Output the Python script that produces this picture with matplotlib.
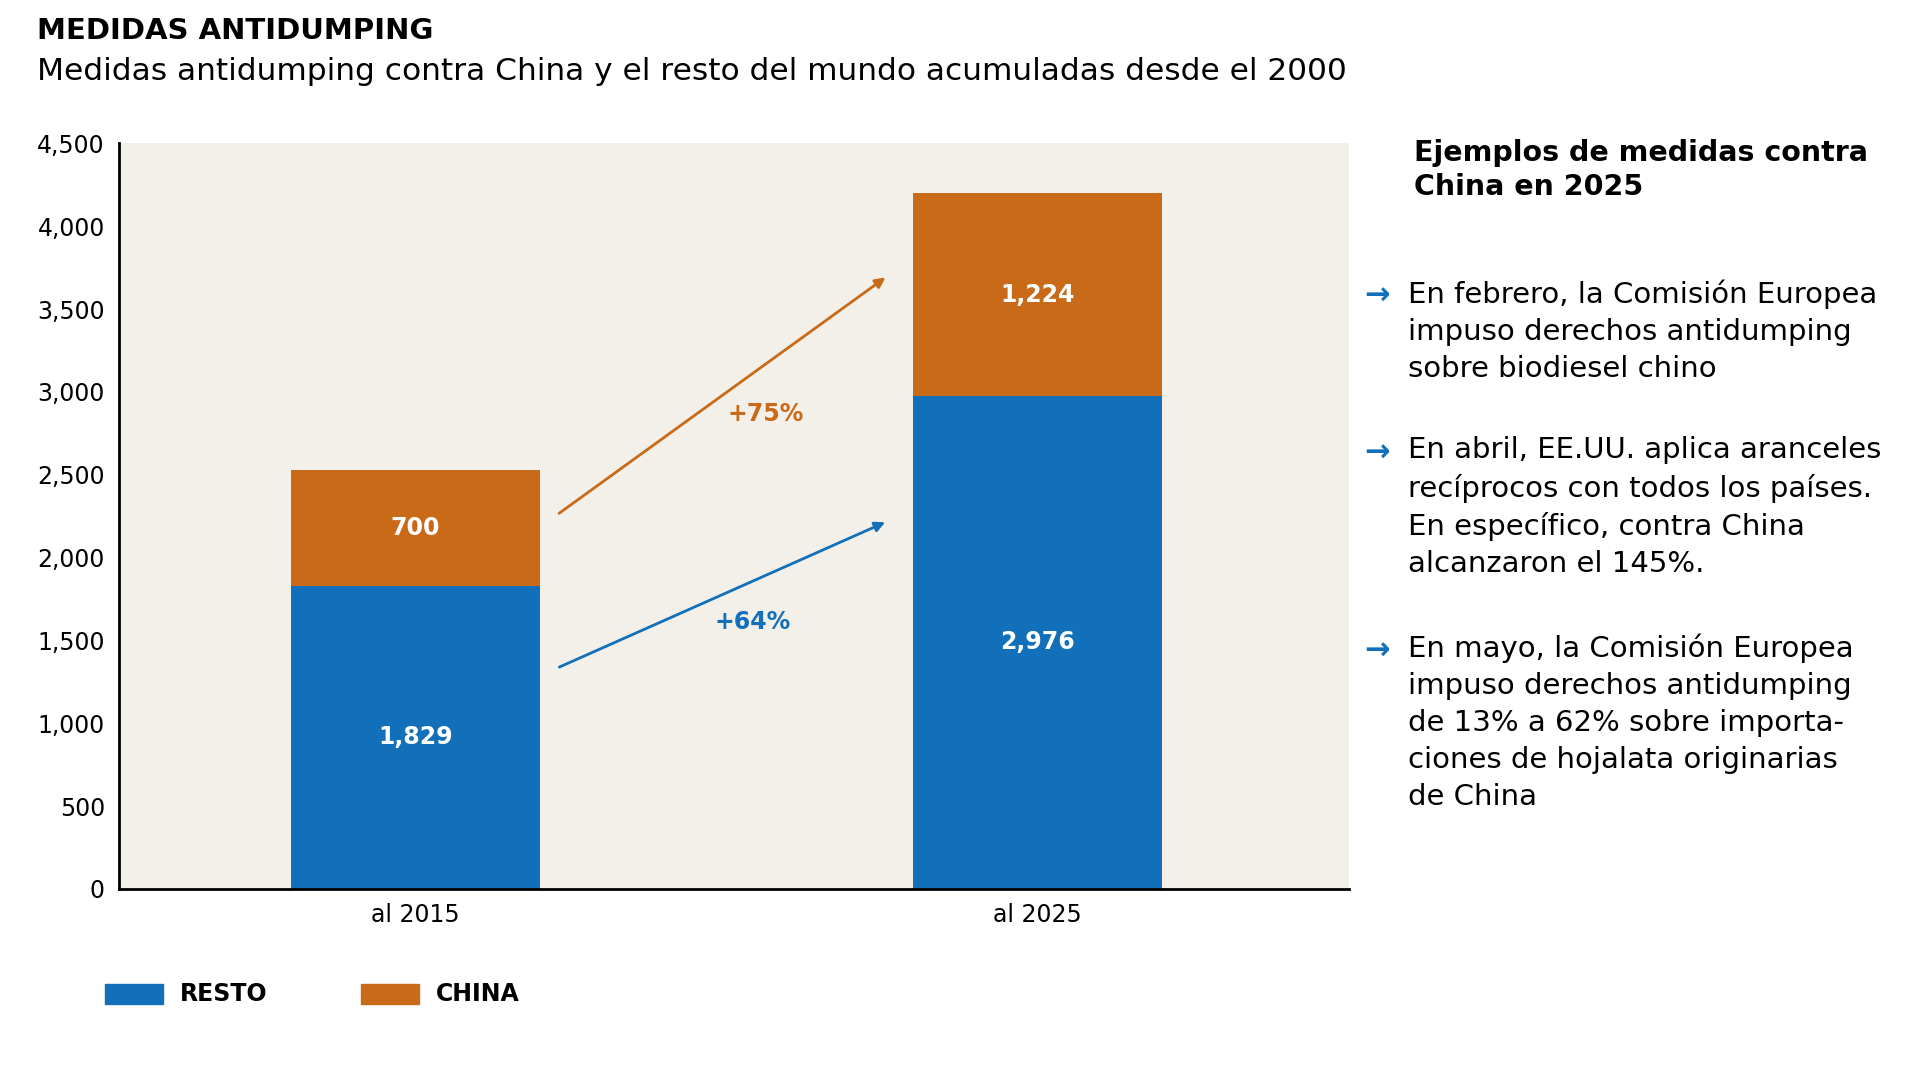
import matplotlib.pyplot as plt
from matplotlib.patches import Rectangle

# Data
periods = ['al 2015', 'al 2025']
resto = [1829, 2976]
china = [700, 1224]
growth_labels = ['+64%', '+75%']

blue = '#1170b9'
orange = '#c96a19'
bg = '#f3f0ea'
narrow = ['Liberation Sans Narrow', 'DejaVu Sans']

W, H = 1568, 876  # reference layout units

fig = plt.figure(figsize=(19.2, 10.74), dpi=100)
ax = fig.add_axes([97 / W, 1 - 725 / H, (1102 - 97) / W, (725 - 117) / H])
ax.set_facecolor(bg)

x = [0, 1]
ax.bar(x, resto, width=0.4, color=blue, zorder=2)
ax.bar(x, china, width=0.4, bottom=resto, color=orange, zorder=2)
for i in x:
    ax.text(i, resto[i] / 2, f'{resto[i]:,}', ha='center', va='center', color='white',
            fontsize=17, fontweight='bold', family=narrow)
    ax.text(i, resto[i] + china[i] / 2, f'{china[i]:,}', ha='center', va='center', color='white',
            fontsize=17, fontweight='bold', family=narrow)

# Growth arrows
ax.annotate('', xy=(0.759, 2220), xytext=(0.227, 1332),
            arrowprops=dict(arrowstyle='-|>', color=blue, lw=2, mutation_scale=15))
ax.annotate('', xy=(0.759, 3701), xytext=(0.227, 2257),
            arrowprops=dict(arrowstyle='-|>', color=orange, lw=2, mutation_scale=15))
ax.text(0.542, 1613, growth_labels[0], color=blue, ha='center', va='center',
        fontsize=17, fontweight='bold', family=narrow)
ax.text(0.562, 2864, growth_labels[1], color=orange, ha='center', va='center',
        fontsize=17, fontweight='bold', family=narrow)

ax.set_xlim(-0.477, 1.501)
ax.set_ylim(0, 4500)
ax.set_yticks(range(0, 4501, 500))
ax.set_yticklabels([f'{v:,}' for v in range(0, 4501, 500)], family=narrow, fontsize=17)
ax.set_xticks(x)
ax.set_xticklabels(periods, family=narrow, fontsize=17)
ax.tick_params(length=0, pad=10)
for s in ['top', 'right']:
    ax.spines[s].set_visible(False)
ax.spines['left'].set_linewidth(2)
ax.spines['bottom'].set_linewidth(2)

# Titles
fig.text(30 / W, 1 - 25 / H, 'MEDIDAS ANTIDUMPING', fontsize=21, fontweight='bold', va='center')
fig.text(30 / W, 1 - 58 / H, 'Medidas antidumping contra China y el resto del mundo acumuladas desde el 2000',
         fontsize=22.5, va='center')

# Legend
fig.patches.append(Rectangle((86 / W, 1 - 819 / H), 47 / W, 16 / H, transform=fig.transFigure, color=blue))
fig.text(147 / W, 1 - 811 / H, 'RESTO', fontsize=17, fontweight='bold', va='center', family=narrow)
fig.patches.append(Rectangle((295 / W, 1 - 819 / H), 47 / W, 16 / H, transform=fig.transFigure, color=orange))
fig.text(356 / W, 1 - 811 / H, 'CHINA', fontsize=17, fontweight='bold', va='center', family=narrow)

# Side panel
fig.text(1155 / W, 1 - 113 / H, 'Ejemplos de medidas contra\nChina en 2025', fontsize=20.5,
         fontweight='bold', va='top', linespacing=1.3)
notes = [
    (245, 'En febrero, la Comisión Europea\nimpuso derechos antidumping\nsobre biodiesel chino'),
    (373, 'En abril, EE.UU. aplica aranceles\nrecíprocos con todos los países.\nEn específico, contra China\nalcanzaron el 145%.'),
    (534, 'En mayo, la Comisión Europea\nimpuso derechos antidumping\nde 13% a 62% sobre importa-\nciones de hojalata originarias\nde China'),
]
for y, txt in notes:
    fig.text(1150 / W, 1 - (y - 17) / H, txt, fontsize=21, va='top', linespacing=1.4)
    fig.text(1114 / W, 1 - (y - 3) / H, '→', fontsize=22, color=blue, fontweight='bold', va='center')

plt.savefig('out.png', dpi=100)
